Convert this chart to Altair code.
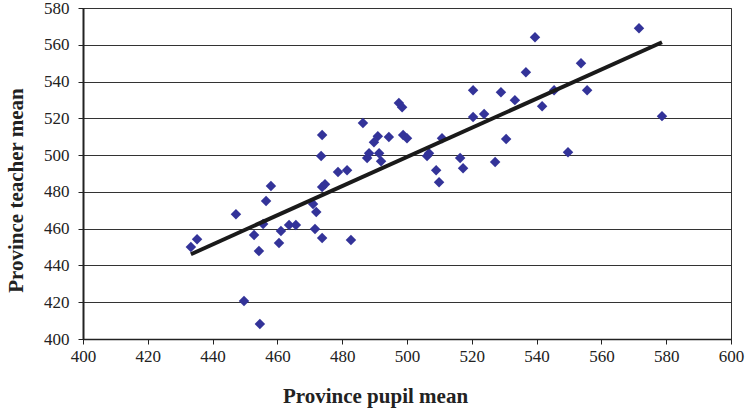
import altair as alt
import pandas as pd

# Province means: pupil score (x) against teacher score (y)
pupil_mean = [
    433.3, 435.2, 447.2, 449.7, 452.8, 454.3, 454.6, 455.6, 456.5, 458.0,
    460.5, 461.1, 463.6, 465.7, 471.0, 471.6, 472.0, 473.5, 473.8, 473.8,
    473.8, 474.7, 478.7, 481.5, 482.7, 486.4, 487.7, 488.3, 489.8, 491.0,
    491.4, 492.0, 494.4, 497.5, 498.5, 498.8, 500.0, 506.2, 506.8, 509.0,
    509.9, 510.8, 516.4, 517.3, 520.4, 520.4, 523.8, 527.2, 529.0, 530.6,
    533.3, 536.7, 539.5, 541.7, 545.4, 549.7, 553.7, 555.6, 571.6, 578.7,
]
teacher_mean = [
    450.0, 454.3, 467.9, 420.6, 456.5, 447.8, 408.2, 462.5, 475.0, 483.2,
    452.2, 458.7, 462.0, 462.0, 473.4, 459.8, 469.0, 499.5, 454.9, 510.9,
    482.6, 484.2, 490.8, 491.8, 453.8, 517.4, 498.4, 501.0, 507.0, 510.3,
    501.0, 496.7, 509.8, 528.3, 526.0, 510.9, 509.2, 499.5, 501.0, 491.8,
    485.3, 509.2, 498.4, 492.9, 535.3, 520.7, 522.3, 496.2, 534.2, 508.7,
    529.9, 545.1, 564.1, 526.6, 535.3, 501.6, 550.0, 535.3, 569.0, 521.2,
]
x_ticks = [400, 420, 440, 460, 480, 500, 520, 540, 560, 580, 600]
y_ticks = [400, 420, 440, 460, 480, 500, 520, 540, 560, 580]

df = pd.DataFrame({"pupil": pupil_mean, "teacher": teacher_mean})

FONT = "Liberation Serif"

x_enc = alt.X(
    "pupil:Q",
    scale=alt.Scale(domain=[400, 600], nice=False, zero=False),
    axis=alt.Axis(
        title="Province pupil mean",
        values=x_ticks,
        tickCount=len(x_ticks),
        grid=False,
        labelOverlap=False,
        labelFlush=False,
        tickSize=5,
        tickColor="#222222",
        domainColor="#222222",
        domainWidth=1.5,
        labelPadding=4,
        titlePadding=21,
        titleX=292,
    ),
)
y_enc = alt.Y(
    "teacher:Q",
    scale=alt.Scale(domain=[400, 580], nice=False, zero=False),
    axis=alt.Axis(
        title="Province teacher mean",
        values=y_ticks,
        tickCount=len(y_ticks),
        grid=True,
        gridColor="#333333",
        gridWidth=1,
        labelOverlap=False,
        labelFlush=False,
        tickSize=5,
        tickColor="#222222",
        domainColor="#222222",
        domainWidth=2,
        labelPadding=9,
        titlePadding=17,
        titleY=182,
    ),
)

points = alt.Chart(df).mark_point(
    shape="diamond", filled=True, size=110, color="#333399", opacity=1
).encode(x=x_enc, y=y_enc)

trend = (
    alt.Chart(df)
    .transform_regression("pupil", "teacher")
    .mark_line(color="#1a1a1a", strokeWidth=4)
    .encode(x="pupil:Q", y="teacher:Q")
)

chart = (
    alt.layer(points, trend)
    .properties(
        width=648,
        height=331,
        autosize=alt.AutoSizeParams(type="none"),
        padding={"left": 83, "top": 8, "right": 19, "bottom": 76},
        background="white",
    )
    .configure_view(stroke="#333333", strokeWidth=1)
    .configure_axis(
        labelFont=FONT,
        labelFontSize=17,
        labelColor="#222222",
        titleFont=FONT,
        titleFontSize=21,
        titleFontWeight="bold",
        titleColor="#222222",
    )
)

chart.save("out.html", embed_options={"renderer": "svg", "actions": False})
